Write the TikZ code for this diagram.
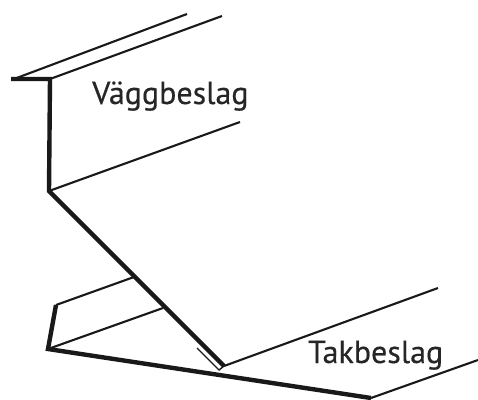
\documentclass[tikz,border=0pt]{standalone}
\usepackage{fontspec}
\setmainfont[FakeBold=0.4]{PT Sans}
\usepackage{tikz}
\usetikzlibrary{positioning}

\begin{document}
\begin{tikzpicture}[x=1pt,y=-1pt]
	\tikzstyle{thin line}=[draw=black!90, line width=2.1pt]
	\tikzstyle{fold line}=[draw=black!90, line width=1.4pt]
	\tikzstyle{thick line}=[draw=black!90, line width=4.4pt]
	\tikzstyle{label}=[inner sep=0pt, anchor=base west, text=black!85, font=\fontsize{32}{32}\selectfont]
	\useasboundingbox (0,0) rectangle (478,399);
	% wall flashing
	\coordinate (flangeL) at (11,79);
	\coordinate (flangeR) at (50,79);
	\coordinate (wallB) at (49,191);
	\coordinate (topA) at (187,14);
	\coordinate (topB) at (222,16);
	\coordinate (wallE) at (240,122);
	% roof flashing
	\coordinate (foldA) at (224,366);
	\coordinate (foldB) at (197,348);
	\coordinate (foldC) at (219,370);
	\coordinate (roofE) at (438,288);
	\coordinate (cornerL) at (48,349);
	\coordinate (cornerT) at (56,305);
	\coordinate (cornerR) at (371,398);
	\coordinate (roofF) at (478,360);
	\coordinate (midA) at (134,277);
	\coordinate (midB) at (163,308);
	\path (14,79) coordinate (flangeT);
	\node[label] (wall) at (92,104) {Väggbeslag};
	\node[label] (roof) at (308,363) {Takbeslag};
	\draw[thin line] (flangeT) -- (topA);
	\draw[thin line] (flangeR) -- (topB);
	\draw[thin line] (wallB) -- (wallE);
	\draw[thin line] (foldA) -- (roofE);
	\draw[thin line] (cornerR) -- (roofF);
	\draw[thin line] (cornerT) -- (midA);
	\draw[thin line] (cornerL) -- (midB);
	\draw[fold line] (foldB) -- (foldC) -- (foldA);
	\draw[thick line] (flangeL) -- (flangeR) -- (wallB) -- (foldA);
	\draw[thick line] (cornerT) -- (cornerL) -- (cornerR);
\end{tikzpicture}
\end{document}
